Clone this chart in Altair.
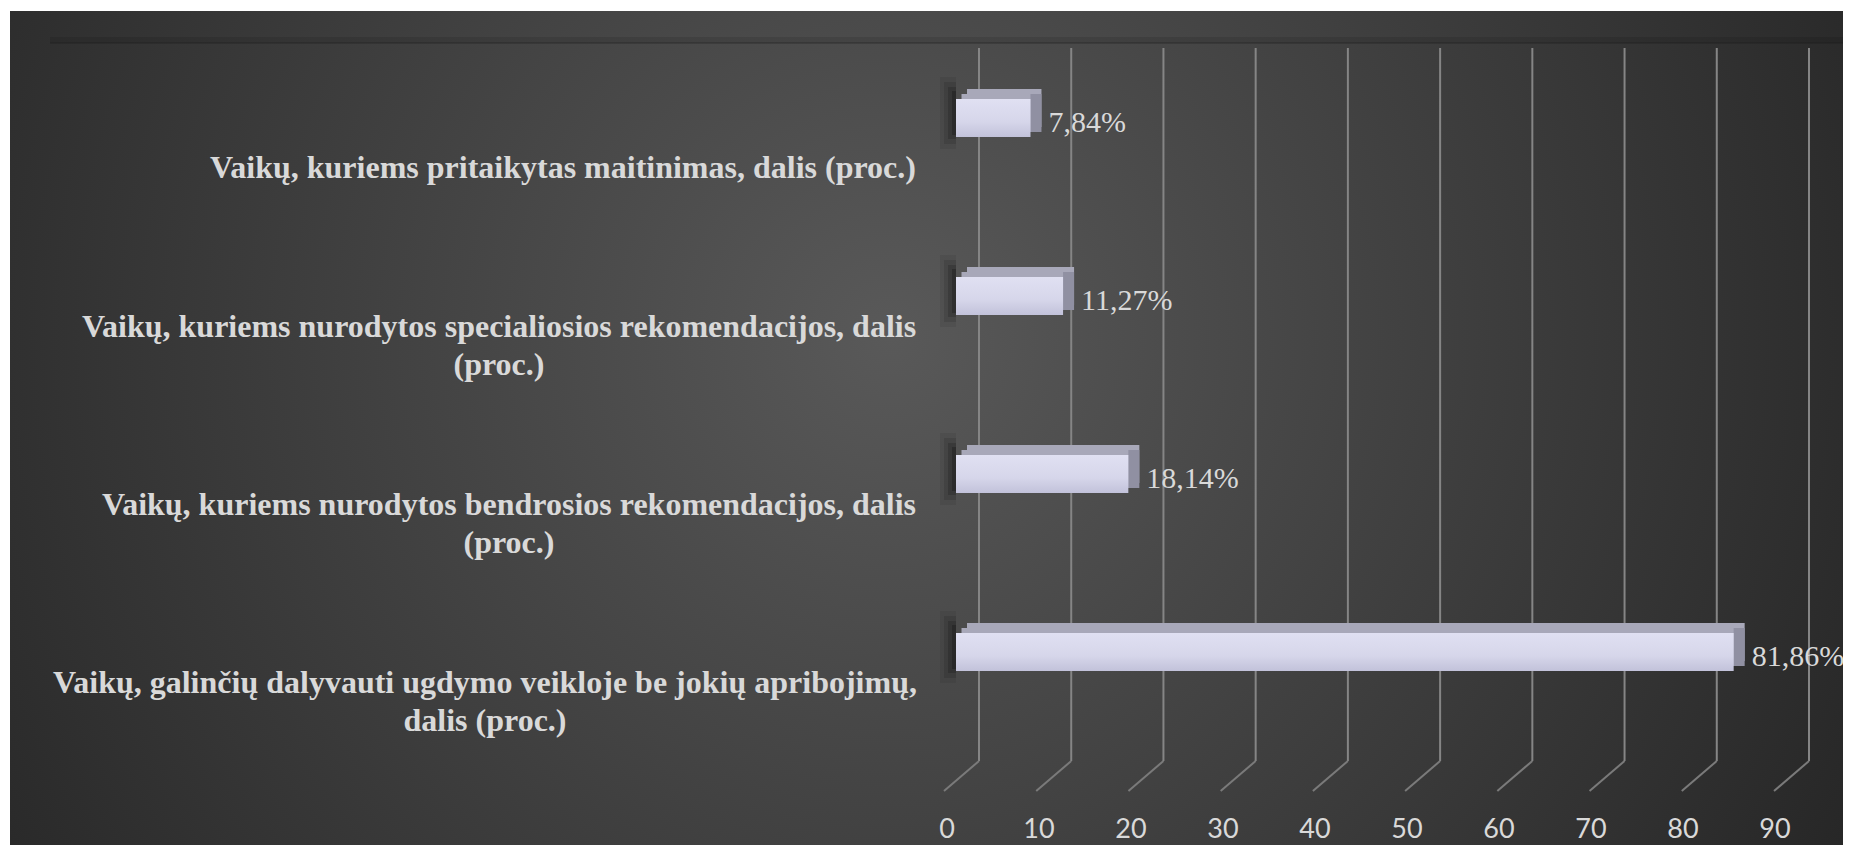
import altair as alt
import pandas as pd

# ---- data ----
categories = [
    "Vaikų, kuriems pritaikytas maitinimas, dalis (proc.)",
    "Vaikų, kuriems nurodytos specialiosios rekomendacijos, dalis\n(proc.)",
    "Vaikų, kuriems nurodytos bendrosios rekomendacijos, dalis\n(proc.)",
    "Vaikų, galinčių dalyvauti ugdymo veikloje be jokių apribojimų,\ndalis (proc.)",
]
values = [7.84, 11.27, 18.14, 81.86]
ticks = [0, 10, 20, 30, 40, 50, 60, 70, 80, 90]
tick_labels = [str(t) for t in ticks]


def pct(v):
    return f"{v:.2f}".replace(".", ",") + "%"


bars_df = pd.DataFrame({
    "cat": categories,
    "v": values,
    "zero": [0] * len(values),
    "label": [pct(v) for v in values],
})
ticks_df = pd.DataFrame({"t": ticks, "tl": tick_labels})
one = alt.Data(values=[{}])

# ---- styles ----
W, H = 855, 712
BAR_SCALE = dict(domain=[0, 90], range=[0, 855], nice=False, zero=False)
GRID_SCALE = dict(domain=[0, 90], range=[23, 853], nice=False, zero=False)
LAB_SCALE = dict(domain=[0, 90], range=[-9, 819], nice=False, zero=False)
TXT = "#d9d9d9"

# centre of each wrapped label block, relative to its right edge
# (half the width of the widest line in 32px Times bold)
label_center_dx = (
    "indexof(datum.cat, 'specialiosios') >= 0 ? -419 : "
    "indexof(datum.cat, 'bendrosios') >= 0 ? -409 : "
    "indexof(datum.cat, 'galinčių') >= 0 ? -433 : -355"
)
# keep wrapped blocks vertically centred
label_dy = "50 - 19 * (length(split(datum.cat, '\\n')) - 1)"


def xq(field, sc):
    return alt.X(field, type="quantitative", scale=alt.Scale(**sc), axis=None)


Y = alt.Y("cat:N", sort=categories, title=None,
          scale=alt.Scale(paddingInner=0, paddingOuter=0), axis=None)

bg_grad = alt.RadialGradient(
    gradient="radial",
    stops=[alt.GradientStop(color="#595959", offset=0),
           alt.GradientStop(color="#262626", offset=1)],
    x1=0.48, y1=0.45, r1=0, x2=0.48, y2=0.45, r2=0.6,
)
front_grad = alt.LinearGradient(
    gradient="linear",
    stops=[alt.GradientStop(color="#e0e0f2", offset=0),
           alt.GradientStop(color="#d6d6ea", offset=0.6),
           alt.GradientStop(color="#c2c2da", offset=1)],
    x1=0, x2=0, y1=0, y2=1,
)

bg = alt.Chart(one).mark_rect(fill=bg_grad).encode(
    x=alt.value(-946), x2=alt.value(887), y=alt.value(-18), y2=alt.value(816))

top_shadow = alt.Chart(one).mark_rule(color="#000000", opacity=0.1, strokeWidth=6).encode(
    x=alt.value(-906), x2=alt.value(887), y=alt.value(11))
top_line = alt.Chart(one).mark_rule(color="#1c1c1c", opacity=0.55, strokeWidth=1.2).encode(
    x=alt.value(-906), x2=alt.value(887), y=alt.value(14))

grid = alt.Chart(ticks_df).mark_rule(color="#858585", strokeWidth=2).encode(
    x=xq("t", GRID_SCALE), y=alt.value(19), y2=alt.value(732))
diag = alt.Chart(ticks_df).mark_rule(color="#7a7a7a", strokeWidth=2, x2Offset=-35).encode(
    x=xq("t", GRID_SCALE), x2="t", y=alt.value(732), y2=alt.value(762))
tick_text = alt.Chart(ticks_df).mark_text(
    font="Lato", fontSize=27, color=TXT, align="center", baseline="alphabetic").encode(
    x=xq("t", LAB_SCALE), y=alt.value(809), text="tl:N")

cat_text = alt.Chart(bars_df).mark_text(
    font="Liberation Serif", fontWeight="bold", fontSize=32, color=TXT,
    align="center", baseline="middle", lineBreak="\n", lineHeight=38,
    dy=alt.expr(label_dy), dx=alt.expr(label_center_dx)).encode(
    x=alt.value(-38), y=Y, text="cat:N")

shadows = [
    alt.Chart(bars_df).mark_bar(color="#080808", opacity=op, size=sz,
                                xOffset=-w, x2Offset=0, yOffset=-5).encode(
        x=xq("zero", BAR_SCALE), x2="zero", y=Y)
    for op, sz, w in [(0.08, 72, 16), (0.12, 62, 12), (0.17, 52, 8), (0.25, 44, 4)]
]

back_top = alt.Chart(bars_df).mark_bar(color="#a8a8b9", size=38, xOffset=11, x2Offset=11, yOffset=-10).encode(
    x=xq("zero", BAR_SCALE), x2="v", y=Y)
mid_top = alt.Chart(bars_df).mark_bar(color="#a8a8b9", size=38, xOffset=5.5, x2Offset=5.5, yOffset=-5).encode(
    x=xq("zero", BAR_SCALE), x2="v", y=Y)
right_face = alt.Chart(bars_df).mark_bar(color="#9090a2", size=38, xOffset=0, x2Offset=11, yOffset=-5).encode(
    x=xq("v", BAR_SCALE), x2="v", y=Y)
front = alt.Chart(bars_df).mark_bar(color=front_grad, size=38).encode(
    x=xq("zero", BAR_SCALE), x2="v", y=Y)
value_text = alt.Chart(bars_df).mark_text(
    font="Liberation Serif", fontSize=30, color=TXT, align="left", baseline="middle", dx=18, dy=5).encode(
    x=xq("v", BAR_SCALE), y=Y, text="label:N")

chart = alt.layer(
    bg, top_shadow, top_line, grid, diag, tick_text, cat_text,
    *shadows, back_top, mid_top, right_face, front, value_text,
).resolve_scale(x="independent").properties(
    width=W, height=H,
    padding={"left": 948, "top": 21, "right": 32, "bottom": 104},
    autosize=alt.AutoSizeParams(type="none"),
    background="white",
).configure_view(stroke=None)

chart.save("out.html", embed_options={"renderer": "svg", "actions": False})
